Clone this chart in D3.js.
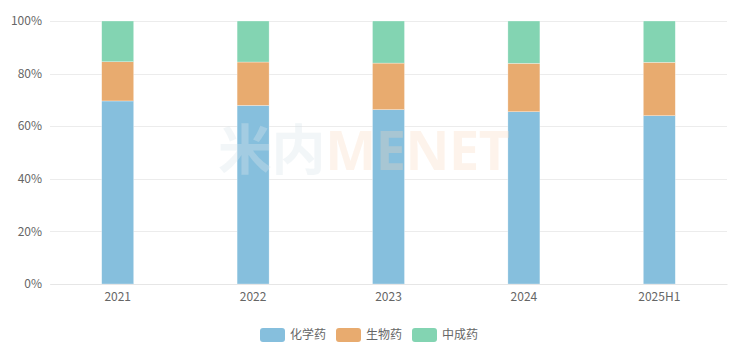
<!DOCTYPE html>
<html>
<head>
<meta charset="utf-8">
<script src="https://cdn.jsdelivr.net/npm/d3@7"></script>
<style>
  body { margin: 0; background: #fff; }
  text { font-family: "Noto Sans CJK SC", "Noto Sans", sans-serif; }
</style>
</head>
<body>
<div id="chart"></div>
<script>
var categories = ["2021", "2022", "2023", "2024", "2025H1"];
var seriesNames = ["化学药", "生物药", "中成药"];
var chem = [69.6, 67.9, 66.3, 65.5, 64.0];
var bio = [14.9, 16.5, 17.7, 18.4, 20.3];
var tcm = [15.5, 15.6, 16.0, 16.1, 15.7];
var yTicks = [0, 20, 40, 60, 80, 100];
var colors = ["#86bfdd", "#e8ab6f", "#83d4b2"];

var width = 745, height = 359;
var margin = {top: 21, right: 18, bottom: 75, left: 50};

var svg = d3.select("#chart").append("svg")
    .attr("width", width)
    .attr("height", height);

var g = svg.append("g")
    .attr("transform", "translate(" + margin.left + "," + margin.top + ")");

var innerW = width - margin.left - margin.right,
    innerH = height - margin.top - margin.bottom;

// stack data
var rows = categories.map(function (c, i) {
    return {cat: c, "化学药": chem[i], "生物药": bio[i], "中成药": tcm[i]};
});
var stacked = d3.stack().keys(seriesNames)
    .offset(d3.stackOffsetExpand)(rows);

var x = d3.scaleBand().domain(categories).range([0, innerW]);
var y = d3.scaleLinear().domain([0, 1]).range([innerH, 0]);

// grid
g.append("g")
    .selectAll("line")
    .data(yTicks)
    .enter().append("line")
    .attr("x1", 0).attr("x2", innerW)
    .attr("y1", function (d) { return Math.round(y(d / 100)) + 0.5; })
    .attr("y2", function (d) { return Math.round(y(d / 100)) + 0.5; })
    .attr("stroke", "#ececec");

// y labels
g.append("g")
    .selectAll("text")
    .data(yTicks)
    .enter().append("text")
    .attr("x", -8)
    .attr("y", function (d) { return y(d / 100); })
    .attr("dy", "0.35em")
    .attr("text-anchor", "end")
    .attr("font-size", "12px")
    .attr("fill", "#666")
    .text(function (d) { return d + "%"; });

// bars
var barW = 32;
g.append("g")
    .selectAll("g")
    .data(stacked)
    .enter().append("g")
    .attr("fill", function (d, i) { return colors[i]; })
    .selectAll("rect")
    .data(function (d) { return d; })
    .enter().append("rect")
    .attr("x", function (d) { return x(d.data.cat) + x.bandwidth() / 2 - barW / 2; })
    .attr("y", function (d) { return y(d[1]); })
    .attr("width", barW)
    .attr("height", function (d) { return y(d[0]) - y(d[1]); })
    .attr("stroke", "#fff")
    .attr("stroke-opacity", 0.6)
    .attr("stroke-width", 0.5);

// watermark (on top, very faint)
var wm = svg.append("text")
    .attr("x", 218)
    .attr("y", 170)
    .attr("font-size", "54px")
    .attr("font-weight", "bold")
    .attr("textLength", 292)
    .style("font-family", "'Noto Sans CJK SC', sans-serif");
wm.append("tspan").attr("fill", "#dbe6ea").attr("fill-opacity", 0.35).text("米内");
wm.append("tspan").attr("fill", "#f9d6bd").attr("fill-opacity", 0.3).style("font-family", "'Noto Sans', sans-serif").text("MENET");

// x axis
var xAxis = g.append("g")
    .attr("transform", "translate(0," + innerH + ")")
    .call(d3.axisBottom(x).tickSize(0).tickPadding(8));
xAxis.select(".domain").attr("stroke", "#e6e6e6");
xAxis.selectAll("text")
    .attr("font-size", "12px")
    .attr("fill", "#666")
    .style("font-family", "'Noto Sans CJK SC', sans-serif");

// legend
var legend = svg.append("g")
    .attr("transform", "translate(260,328)");
var itemX = [0, 76, 152];
var item = legend.selectAll("g")
    .data(seriesNames)
    .enter().append("g")
    .attr("transform", function (d, i) { return "translate(" + itemX[i] + ",0)"; });
item.append("rect")
    .attr("width", 25)
    .attr("height", 14)
    .attr("rx", 3)
    .attr("fill", function (d, i) { return colors[i]; });
item.append("text")
    .attr("x", 30)
    .attr("y", 7)
    .attr("dy", "0.35em")
    .attr("font-size", "12px")
    .attr("fill", "#666")
    .text(function (d) { return d; });
</script>
</body>
</html>
